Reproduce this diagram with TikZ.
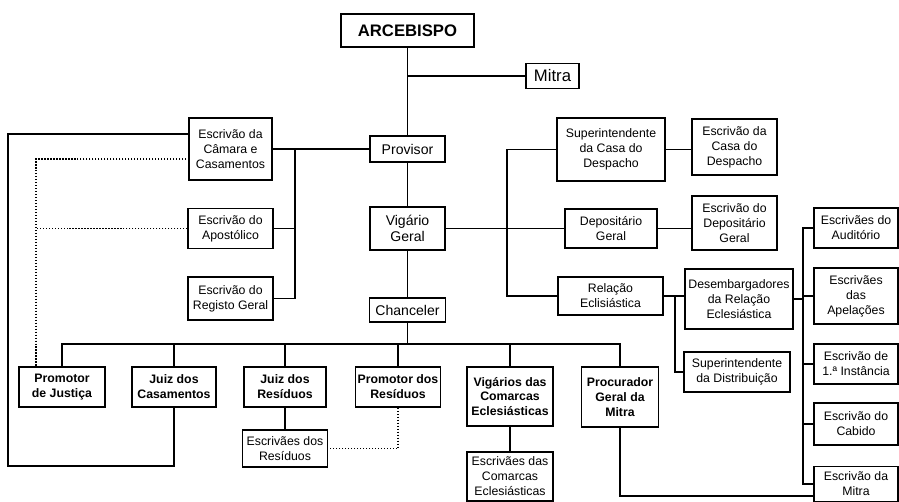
\documentclass[tikz,border=0pt]{standalone}
\usepackage{fontspec}
\setmainfont{Liberation Sans}
\usepackage{tikz}
\usetikzlibrary{calc}

\tikzset{
    box/.style={draw, rectangle, line width=0.9pt, inner sep=1pt, align=center,
        font=\fontsize{7}{8.5}\selectfont},
    midbox/.style={box, font=\fontsize{8}{9.5}\selectfont},
    boldbox/.style={box, font=\fontsize{7}{8.5}\selectfont\bfseries},
    boxsize/.style 2 args={minimum width=#1*0.02cm, minimum height=#2*0.02cm},
    link/.style={line width=0.7pt},
    dotlink/.style={line width=0.7pt, densely dotted}
}

\begin{document}
\begin{tikzpicture}[x=0.02cm, y=-0.02cm]
    \useasboundingbox (0,0) rectangle (899,502);

    % Top of the hierarchy
    \node[box, boxsize={133}{33}, font=\fontsize{9.5}{11}\selectfont\bfseries] (arce) at (407.5,30.5) {ARCEBISPO};
    \node[box, boxsize={53}{25}, font=\fontsize{9.5}{11}\selectfont] (mitra) at (552.5,76) {Mitra};

    % Central column
    \node[midbox, boxsize={75}{26}] (provisor) at (407.5,149) {Provisor};
    \node[midbox, boxsize={75}{43}] (vigario) at (407.5,228.5) {Vigário\\Geral};
    \node[midbox, boxsize={76}{24}] (chanceler) at (407.5,310) {Chanceler};

    % Escrivães of the Provisor
    \node[box, boxsize={83}{62}] (camara) at (230.5,149) {Escrivão da\\Câmara e\\Casamentos};
    \node[box, boxsize={85}{40}] (apost) at (230.5,228.5) {Escrivão do\\Apostólico};
    \node[box, boxsize={85}{43}] (registo) at (230.5,298.5) {Escrivão do\\Registo Geral};

    % Right branch
    \node[box, boxsize={108}{63}] (supcasa) at (611,149.5) {Superintendente\\da Casa do\\Despacho};
    \node[box, boxsize={85}{56}] (escasa) at (734.5,147) {Escrivão da\\Casa do\\Despacho};
    \node[box, boxsize={92}{39}] (deposit) at (611,228.5) {Depositário\\Geral};
    \node[box, boxsize={85}{54}] (esdepo) at (734.5,223) {Escrivão do\\Depositário\\Geral};
    \node[box, boxsize={105}{38}] (relacao) at (610.5,296) {Relação\\Eclisiástica};
    \node[box, boxsize={108}{60}] (desemb) at (739,299) {Desembargadores\\da Relação\\Eclesiástica};
    \node[box, boxsize={106}{40}] (supdist) at (737,372) {Superintendente\\da Distribuição};

    % Escrivães of the Relação
    \node[box, boxsize={84}{40}] (esaudit) at (856,228) {Escrivães do\\Auditório};
    \node[box, boxsize={84}{56}] (esapel) at (856,296) {Escrivães\\das\\Apelações};
    \node[box, boxsize={84}{40}] (esinst) at (856,364) {Escrivão de\\1.ª Instância};
    \node[box, boxsize={84}{42}] (escabido) at (856,424) {Escrivão do\\Cabido};
    \node[box, boxsize={84}{35}] (esmitra) at (856,484) {Escrivão da\\Mitra};

    % Bottom row
    \node[boldbox, boxsize={86}{40}] (promjus) at (62,387) {Promotor\\de Justiça};
    \node[boldbox, boxsize={84}{40}] (juizcas) at (174,387) {Juiz dos\\Casamentos};
    \node[boldbox, boxsize={82}{40}] (juizres) at (285,387) {Juiz dos\\Resíduos};
    \node[boldbox, boxsize={85}{40}] (promres) at (398,387) {Promotor dos\\Resíduos};
    \node[boldbox, boxsize={86}{59}] (vigcom) at (510,396.5) {Vigários das\\Comarcas\\Eclesiásticas};
    \node[boldbox, boxsize={77}{60}] (procmit) at (620,397) {Procurador\\Geral da\\Mitra};
    \node[box, boxsize={85}{37}] (esres) at (285,448.5) {Escrivães dos\\Resíduos};
    \node[box, boxsize={86}{49}] (escom) at (510,476.5) {Escrivães das\\Comarcas\\Eclesiásticas};

    % Helper points
    \coordinate (brk) at (295,149);
    \coordinate (rtop) at (507,149.5);
    \coordinate (dbus) at (675,296);
    \coordinate (abus) at (803,228);
    \coordinate (bbus) at (407.5,344);
    \coordinate (cam1) at (189,134);
    \coordinate (cam2) at (189,159);
    \coordinate (loopbl) at (8,466);
    \coordinate (pjtop) at (36,367);
    \coordinate (pmend) at (814,496);

    % Connections
    \draw[link] (arce) -- (provisor);
    \draw[link] (provisor) -- (vigario);
    \draw[link] (vigario) -- (chanceler);
    \draw[link] (mitra.west) -- (mitra.west -| arce.south);
    \draw[link] (provisor.west) -- (camara.east);
    \draw[link] (brk) |- (registo.east);
    \draw[link] (apost.east) -- (apost.east -| brk);
    \draw[link] (vigario.east) -- (deposit.west);
    \draw[link] (supcasa.west) -- (rtop) |- (relacao.west);
    \draw[link] (supcasa.east) -- (supcasa.east -| escasa.west);
    \draw[link] (deposit.east) -- (deposit.east -| esdepo.west);
    \draw[link] (relacao.east) -- (relacao.east -| desemb.west);
    \draw[link] (dbus) |- (supdist.west);
    \draw[link] (esaudit.west) -- (abus) |- (esmitra.west);
    \draw[link] (desemb.east) -- (desemb.east -| abus);
    \foreach \n in {esapel, esinst, escabido}
        \draw[link] (\n.west) -- (\n.west -| abus);
    \draw[link] (chanceler) -- (bbus);
    \draw[link] (promjus.north) |- (bbus) -| (procmit.north);
    \foreach \n in {juizcas, juizres, promres, vigcom}
        \draw[link] (\n.north) -- (\n.north |- bbus);
    \draw[link] (juizres) -- (esres);
    \draw[link] (vigcom) -- (escom);
    \draw[link] (procmit.south) |- (pmend);
    \draw[link] (juizcas.south) |- (loopbl) |- (cam1);

    % Dotted links
    \draw[dotlink] (cam2) -| (pjtop);
    \draw[dotlink] (apost.west) -- (apost.west -| pjtop);
    \draw[dotlink] (promres.south) |- (esres.east);
\end{tikzpicture}
\end{document}
